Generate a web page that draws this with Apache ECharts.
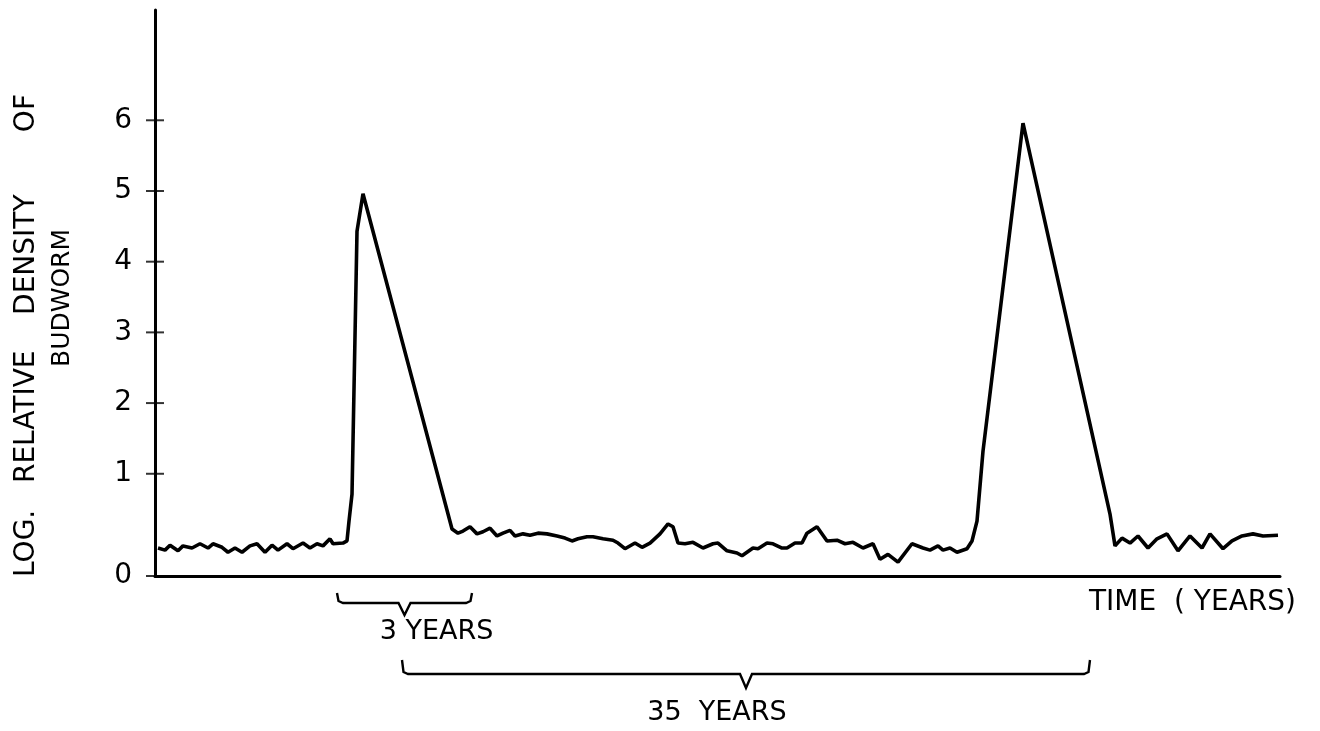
<!DOCTYPE html>
<html>
<head>
<meta charset="utf-8">
<title>Budworm</title>
<script src="https://cdn.jsdelivr.net/npm/echarts@6/dist/echarts.min.js"></script>
<style>
  html, body { margin: 0; padding: 0; background: #fff; }
  #main { width: 1320px; height: 731px; }
</style>
</head>
<body>
<div id="main"></div>
<script>
// time (years) and log. relative density
var years = [0.15, 0.5, 0.75, 1.15, 1.4, 1.85, 2.25, 2.65, 2.9, 3.35, 3.65, 4.0, 4.35, 4.75, 5.1, 5.5,
  5.85, 6.15, 6.6, 6.9, 7.4, 7.75, 8.1, 8.4, 8.75, 8.9, 9.4, 9.6, 9.7, 9.85, 10.1, 10.4,
  14.85, 15.15, 15.4, 15.75, 16.1, 16.4, 16.75, 17.1, 17.4, 17.75, 18.0, 18.4, 18.75, 19.15, 19.6,
  20.1, 20.5, 20.85, 21.15, 21.6, 21.9, 22.4, 22.9, 23.15, 23.5, 24.0, 24.35, 24.75, 25.25, 25.65,
  25.9, 26.15, 26.5, 26.9, 27.4, 27.9, 28.15, 28.6, 29.1, 29.35, 29.9, 30.15, 30.6, 30.9, 31.35,
  31.6, 32.0, 32.35, 32.6, 33.1, 33.6, 34.1, 34.5, 34.9, 35.4, 35.9, 36.25, 36.65, 37.15, 37.85,
  38.4, 38.75, 39.15, 39.4, 39.75, 40.1, 40.6, 40.85, 41.1, 41.4, 43.4,
  47.75, 48.0, 48.35, 48.75, 49.15, 49.65, 50.1, 50.6, 51.15, 51.75, 52.35, 52.75,
  53.4, 53.85, 54.35, 54.9, 55.4, 56.15];
var density = [-0.05, -0.08, -0.01, -0.09, -0.02, -0.05, 0.01, -0.05, 0.01, -0.04, -0.11, -0.05, -0.11, -0.02, 0.01, -0.11,
  -0.01, -0.08, 0.01, -0.06, 0.02, -0.05, 0.01, -0.02, 0.08, 0.01, 0.02, 0.05, 0.33, 0.71, 4.43, 4.96,
  0.22, 0.16, 0.19, 0.25, 0.15, 0.18, 0.23, 0.12, 0.16, 0.20, 0.12, 0.15, 0.13, 0.16, 0.15,
  0.12, 0.09, 0.05, 0.08, 0.11, 0.11, 0.08, 0.06, 0.02, -0.06, 0.02, -0.04, 0.02, 0.15, 0.29,
  0.25, 0.02, 0.01, 0.03, -0.05, 0.01, 0.02, -0.09, -0.12, -0.16, -0.05, -0.06, 0.02, 0.01, -0.05,
  -0.05, 0.02, 0.02, 0.16, 0.25, 0.05, 0.06, 0.01, 0.03, -0.05, 0.01, -0.21, -0.14, -0.25, 0.01,
  -0.05, -0.08, -0.02, -0.08, -0.05, -0.11, -0.06, 0.05, 0.33, 1.32, 5.96,
  0.43, -0.02, 0.09, 0.02, 0.12, -0.05, 0.08, 0.15, -0.09, 0.12, -0.05, 0.15,
  -0.06, 0.05, 0.12, 0.15, 0.12, 0.13];

var yTicks = [1, 2, 3, 4, 5, 6];
var yMin = -0.446;   // where the drawing puts its "0"
var yMax = 7.56;
var xMax = 56.25;

// brackets under the time axis: [from, to] in years
var shortSpan = [9.1, 15.85];
var longSpan = [12.35, 46.75];

var font = 'DejaVu Sans';
var tickVals = [yMin].concat(yTicks);

var chart = echarts.init(document.getElementById('main'));

var option = {
  animation: false,
  grid: { left: 155, right: 40, top: 10, bottom: 155 },
  xAxis: {
    type: 'value',
    min: 0,
    max: xMax,
    axisLine: { onZero: false, lineStyle: { color: '#000', width: 3 } },
    axisTick: { show: false },
    axisLabel: { show: false },
    splitLine: { show: false }
  },
  yAxis: {
    type: 'value',
    min: yMin,
    max: yMax,
    axisLine: { show: true, lineStyle: { color: '#000', width: 3 } },
    axisTick: { show: false },
    axisLabel: {
      customValues: tickVals,
      margin: 23,
      color: '#000',
      fontFamily: font,
      fontSize: 28,
      formatter: function (v) { return v < 0 ? '0' : String(v); }
    },
    splitLine: { show: false }
  },
  series: [{
    type: 'line',
    symbol: 'none',
    smooth: false,
    lineStyle: { color: '#000', width: 3.6 },
    data: years.map(function (t, i) { return [t, density[i]]; })
  }, {
    // the ticks cross the axis on both sides in the drawing
    type: 'scatter',
    symbol: 'rect',
    symbolSize: [18, 2],
    clip: false,
    silent: true,
    z: 5,
    itemStyle: { color: '#000' },
    data: tickVals.map(function (v) { return [0, v]; })
  }]
};
chart.setOption(option);

// brackets and labels placed through the x scale
function toPx(t) {
  return chart.convertToPixel({ xAxisIndex: 0 }, t);
}
function bracket(span, top, base, dip) {
  var a = toPx(span[0]);
  var b = toPx(span[1]);
  var m = (a + b) / 2;
  return {
    type: 'polyline',
    shape: { points: [[a, top], [a + 1.5, base - 2], [a + 6, base], [m - 6, base], [m, dip], [m + 6, base],
      [b - 6, base], [b - 1.5, base - 2], [b, top]] },
    style: { stroke: '#000', lineWidth: 2.4, fill: null }
  };
}
function label(text, x, y, size, align, rot) {
  return {
    type: 'text', x: x, y: y, rotation: rot || 0,
    style: { text: text, font: size + 'px "' + font + '"', fill: '#000', align: align || 'center', verticalAlign: 'middle' }
  };
}
var sMid = (toPx(shortSpan[0]) + toPx(shortSpan[1])) / 2;
var lMid = (toPx(longSpan[0]) + toPx(longSpan[1])) / 2;

chart.setOption({
  graphic: [
    bracket(shortSpan, 593, 603, 615),
    bracket(longSpan, 660, 674, 688),
    label('3 YEARS', sMid + 32, 632, 27),
    label('35  YEARS', lMid - 29, 713, 27),
    label('TIME  ( YEARS)', 1089, 603, 28, 'left'),
    label('LOG.   RELATIVE    DENSITY       OF', 27, 577, 28, 'left', Math.PI / 2),
    label('BUDWORM', 62, 298, 25, 'center', Math.PI / 2)
  ]
});
</script>
</body>
</html>
